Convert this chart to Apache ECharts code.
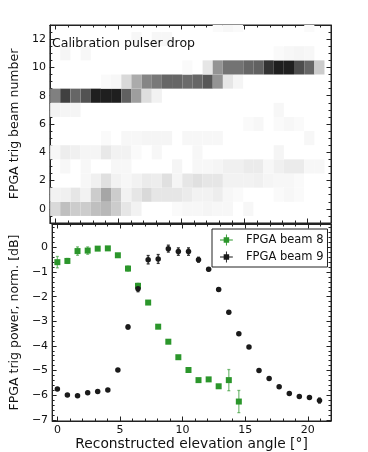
<!DOCTYPE html>
<html>
<head>
<meta charset="utf-8">
<script src="https://cdn.jsdelivr.net/npm/echarts@6/dist/echarts.min.js"></script>
<style>
  html, body { margin: 0; padding: 0; background: #fff; }
  #chart { width: 368px; height: 452px; }
</style>
</head>
<body>
<div id="chart"></div>
<script>
// elevation bins (deg), shared by both panels
const angles = [0, 0.8, 1.61, 2.42, 3.22, 4.03, 4.83, 5.64, 6.44, 7.25, 8.05, 8.86, 9.66,
  10.47, 11.27, 12.08, 12.88, 13.69, 14.49, 15.3, 16.1, 16.91, 17.71, 18.52, 19.32, 20.13, 20.93];

// top panel: fraction of events per FPGA beam (rows = beam 0..13, cols = angle bins)
const beams = [0, 1, 2, 3, 4, 5, 6, 7, 8, 9, 10, 11, 12, 13];
const occupancy = [
  [0.15, 0.25, 0.2, 0.2, 0.25, 0.28, 0.2, 0.1, 0.05, 0, 0, 0, 0.02, 0.03, 0.03, 0.04, 0.03, 0.03, 0, 0.03, 0, 0, 0, 0, 0, 0, 0],
  [0.05, 0.06, 0.1, 0.05, 0.2, 0.35, 0.2, 0.05, 0.1, 0.15, 0.1, 0.1, 0.1, 0.08, 0.05, 0.05, 0.07, 0.03, 0.02, 0, 0, 0, 0.02, 0.03, 0.02, 0, 0],
  [0, 0, 0, 0.03, 0.06, 0.12, 0.05, 0.03, 0.05, 0.08, 0.07, 0.12, 0.04, 0.1, 0.12, 0.1, 0.1, 0.05, 0.05, 0.05, 0.06, 0.04, 0.03, 0.03, 0.02, 0, 0],
  [0, 0.03, 0, 0.03, 0, 0, 0.03, 0.03, 0, 0, 0, 0, 0.04, 0, 0.03, 0.03, 0.04, 0.06, 0.06, 0.08, 0.08, 0.03, 0.06, 0.08, 0.08, 0.03, 0.03],
  [0.03, 0.07, 0.06, 0.04, 0.04, 0.09, 0.05, 0.05, 0.02, 0, 0.03, 0, 0, 0, 0.03, 0, 0, 0, 0, 0, 0, 0, 0.04, 0, 0, 0, 0],
  [0, 0, 0, 0, 0, 0.02, 0, 0.03, 0.03, 0.04, 0.04, 0.04, 0, 0.03, 0.03, 0.03, 0.03, 0, 0, 0, 0, 0, 0, 0, 0, 0.03, 0],
  [0, 0, 0, 0, 0, 0, 0, 0, 0, 0, 0, 0, 0, 0, 0, 0, 0, 0, 0, 0.02, 0.03, 0, 0.02, 0.03, 0.02, 0, 0],
  [0.05, 0.04, 0.04, 0, 0, 0, 0, 0, 0, 0, 0, 0, 0, 0, 0, 0, 0, 0, 0, 0, 0, 0, 0.03, 0, 0, 0, 0],
  [0.5, 0.75, 0.6, 0.68, 0.88, 0.88, 0.88, 0.62, 0.38, 0.13, 0.05, 0, 0, 0, 0, 0, 0, 0, 0, 0, 0, 0, 0, 0, 0, 0, 0],
  [0, 0, 0, 0, 0, 0.02, 0.03, 0.15, 0.33, 0.48, 0.53, 0.6, 0.6, 0.58, 0.6, 0.66, 0.42, 0.1, 0.04, 0, 0, 0, 0, 0, 0, 0, 0],
  [0, 0, 0, 0, 0, 0, 0, 0, 0, 0, 0, 0, 0, 0.02, 0, 0.1, 0.42, 0.55, 0.55, 0.6, 0.62, 0.8, 0.88, 0.88, 0.7, 0.6, 0.2],
  [0, 0.04, 0, 0.03, 0, 0, 0, 0, 0, 0, 0, 0, 0, 0, 0, 0, 0, 0, 0, 0, 0, 0, 0.02, 0.03, 0.04, 0.03, 0],
  [0, 0, 0, 0, 0, 0, 0, 0, 0.03, 0, 0.03, 0.03, 0, 0, 0, 0, 0, 0, 0, 0, 0, 0, 0, 0, 0, 0, 0],
  [0, 0, 0, 0, 0, 0, 0, 0, 0, 0, 0, 0, 0, 0, 0, 0, 0.02, 0.03, 0.02, 0, 0, 0, 0, 0, 0, 0.02, 0]
];

// bottom panel: normalised trigger power [dB] and its error
const beam8Power = [-0.6, -0.55, -0.15, -0.13, -0.05, -0.04, -0.32, -0.86, -1.56, -2.24, -3.22, -3.83,
  -4.46, -4.98, -5.39, -5.36, -5.64, -5.39, -6.26];
const beam8Error = [0.23, 0.1, 0.17, 0.15, 0.05, 0.04, 0.06, 0.1, 0.1, 0.06, 0.06, 0.04,
  0.04, 0.04, 0.05, 0.05, 0.05, 0.43, 0.45];
const beam9Power = [-5.75, -5.99, -6.02, -5.9, -5.85, -5.79, -4.98, -3.23, -1.68, -0.5, -0.47, -0.05,
  -0.17, -0.17, -0.5, -0.89, -1.71, -2.63, -3.51, -4.04, -5.0, -5.32, -5.66, -5.93, -6.05, -6.1, -6.22];
const beam9Error = [0.05, 0.04, 0.04, 0.05, 0.05, 0.05, 0.05, 0.08, 0.12, 0.17, 0.18, 0.14,
  0.15, 0.15, 0.1, 0.06, 0.06, 0.06, 0.05, 0.04, 0.04, 0.04, 0.04, 0.04, 0.04, 0.05, 0.1];

const xMajors = [0, 5, 10, 15, 20];
const topMajors = [0, 2, 4, 6, 8, 10, 12];
const bottomMajors = [-7, -6, -5, -4, -3, -2, -1, 0];

const GREEN = '#2b962b';
const GREEN_ERR = 'rgba(43,150,43,0.6)';
const BLACK = '#1a1a1a';
const FONT = 'DejaVu Sans';

function steps(from, to, step) {
  const out = [];
  for (let v = from; v <= to + 1e-9; v += step) out.push(Math.round(v * 100) / 100);
  return out;
}

function axisSet(dim, gridIndex, min, max, majors, minors, label, name) {
  const mainPos = dim === 'x' ? 'bottom' : 'left';
  const otherPos = dim === 'x' ? 'top' : 'right';
  const make = (pos, values, len, showLine, withLabel) => ({
    type: 'value',
    gridIndex,
    position: pos,
    min,
    max,
    splitLine: { show: false },
    axisLine: { show: showLine, onZero: false, lineStyle: { color: '#222', width: 1 } },
    axisTick: { show: true, inside: true, length: len, customValues: values, lineStyle: { color: '#222', width: 1 } },
    axisLabel: withLabel ? Object.assign({ customValues: values }, label) : { show: false },
    ...(withLabel && name ? name : {}),
  });
  return [
    make(mainPos, majors, 4.5, true, !!label),
    make(mainPos, minors, 2.5, false, false),
    make(otherPos, majors, 4.5, true, false),
    make(otherPos, minors, 2.5, false, false),
  ];
}

const tickLabel = { fontSize: 11, color: '#111', fontFamily: FONT, margin: 4 };
const nameStyle = { fontSize: 12.5, color: '#111', fontFamily: FONT };

const xAxes = [
  ...axisSet('x', 0, -0.42, 21.85, xMajors, steps(0, 21, 1), null),
  ...axisSet('x', 1, -0.42, 21.85, xMajors, steps(0, 21, 1), tickLabel, {
    name: 'Reconstructed elevation angle [°]', nameLocation: 'middle', nameGap: 16,
    nameTextStyle: Object.assign({}, nameStyle, { fontSize: 13.8 }),
  }),
];
const yAxes = [
  ...axisSet('y', 0, -1, 13, topMajors, steps(-1, 13, 0.5), tickLabel, {
    name: 'FPGA trig beam number', nameLocation: 'middle', nameGap: 21, nameTextStyle: nameStyle,
  }),
  ...axisSet('y', 1, -7.05, 0.95, bottomMajors, steps(-7, 0.8, 0.2),
    Object.assign({}, tickLabel, { formatter: v => String(v).replace('-', '\u2212') }), {
      name: 'FPGA trig power, norm. [dB]', nameLocation: 'middle', nameGap: 26, nameTextStyle: nameStyle,
    }),
];

const cellData = [];
beams.forEach((beam, r) => {
  occupancy[r].forEach((v, c) => {
    if (v > 0) cellData.push([angles[c], beam, v]);
  });
});
const binWidth = angles[1] - angles[0] + 0.005;

function renderCell(params, api) {
  const x = api.value(0);
  const y = api.value(1);
  const p0 = api.coord([x - binWidth / 2, y + 0.5]);
  const p1 = api.coord([x + binWidth / 2, y - 0.5]);
  return {
    type: 'rect',
    shape: { x: p0[0], y: p0[1], width: p1[0] - p0[0], height: p1[1] - p0[1] },
    style: { fill: api.visual('color') },
  };
}

function errorBars(color) {
  return (params, api) => {
    const x = api.value(0);
    const y = api.value(1);
    const e = api.value(2);
    const hi = api.coord([x, y + e]);
    const lo = api.coord([x, y - e]);
    const style = { stroke: color, lineWidth: 1.3 };
    return {
      type: 'group',
      children: [
        { type: 'line', shape: { x1: hi[0], y1: hi[1], x2: lo[0], y2: lo[1] }, style },
        { type: 'line', shape: { x1: hi[0] - 1.5, y1: hi[1], x2: hi[0] + 1.5, y2: hi[1] }, style },
        { type: 'line', shape: { x1: lo[0] - 1.5, y1: lo[1], x2: lo[0] + 1.5, y2: lo[1] }, style },
      ],
    };
  };
}

const beam8Points = beam8Power.map((v, i) => [angles[i], v]);
const beam8Bars = beam8Power.map((v, i) => [angles[i], v, beam8Error[i]]);
const beam9Points = beam9Power.map((v, i) => [angles[i], v]);
const beam9Bars = beam9Power.map((v, i) => [angles[i], v, beam9Error[i]]);

const legendIcon = 'path://M0,5.5h14v1h-14z M6.5,0h1v12h-1z M4,3h6v6h-6z';

const chart = echarts.init(document.getElementById('chart'));
chart.setOption({
  animation: false,
  textStyle: { fontFamily: FONT },
  title: {
    text: 'Calibration pulser drop',
    left: 52,
    top: 37,
    textStyle: { fontSize: 12.5, fontWeight: 'normal', color: '#111', fontFamily: FONT },
    padding: 0,
  },
  grid: [
    { left: 47, top: 25, width: 284, height: 198, show: true, borderColor: '#222', borderWidth: 1, backgroundColor: 'transparent' },
    { left: 47, top: 224, width: 284, height: 198, show: true, borderColor: '#222', borderWidth: 1, backgroundColor: 'transparent' },
  ],
  xAxis: xAxes,
  yAxis: yAxes,
  visualMap: {
    show: false,
    type: 'continuous',
    seriesIndex: 0,
    dimension: 2,
    min: 0,
    max: 1,
    inRange: { color: ['#ffffff', '#000000'] },
  },
  legend: {
    left: 212,
    top: 229,
    orient: 'vertical',
    backgroundColor: '#fff',
    borderColor: '#222',
    borderWidth: 1,
    borderRadius: 0,
    padding: [5, 4, 4, 8],
    itemGap: 5,
    itemWidth: 13,
    itemHeight: 11,
    textStyle: { fontSize: 11.5, color: '#111', fontFamily: FONT, padding: [0, 0, 0, 8] },
    data: [
      { name: 'FPGA beam 8', icon: legendIcon },
      { name: 'FPGA beam 9', icon: legendIcon },
    ],
  },
  series: [
    {
      type: 'custom',
      xAxisIndex: 0,
      yAxisIndex: 0,
      renderItem: renderCell,
      clip: true,
      encode: { x: 0, y: 1 },
      data: cellData,
    },
    {
      type: 'custom',
      xAxisIndex: 4,
      yAxisIndex: 4,
      renderItem: errorBars(GREEN_ERR),
      encode: { x: 0, y: 1 },
      data: beam8Bars,
    },
    {
      name: 'FPGA beam 8',
      type: 'scatter',
      xAxisIndex: 4,
      yAxisIndex: 4,
      symbol: 'rect',
      symbolSize: 6,
      itemStyle: { color: GREEN, opacity: 1 },
      data: beam8Points,
    },
    {
      type: 'custom',
      xAxisIndex: 4,
      yAxisIndex: 4,
      renderItem: errorBars('#333'),
      encode: { x: 0, y: 1 },
      data: beam9Bars,
    },
    {
      name: 'FPGA beam 9',
      type: 'scatter',
      xAxisIndex: 4,
      yAxisIndex: 4,
      symbol: 'circle',
      symbolSize: 5.5,
      itemStyle: { color: BLACK, opacity: 1 },
      data: beam9Points,
    },
  ],
});
</script>
</body>
</html>
